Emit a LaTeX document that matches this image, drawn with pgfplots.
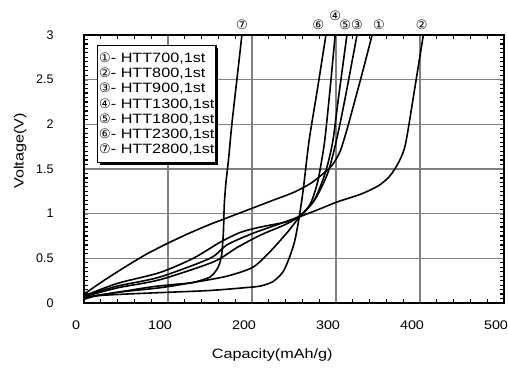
\documentclass[border=0pt]{standalone}
\usepackage{fontspec}
\setmainfont{Liberation Sans}
\newfontfamily\wide{Liberation Sans}[FakeStretch=1.2]
\newfontfamily\wideb{Liberation Sans}[FakeStretch=1.15]
\newfontfamily\djfont{DejaVu Sans}
\usepackage{pgfplots}
\pgfplotsset{compat=1.18}
\usetikzlibrary{shadows}
\newcommand\cn[1]{{\djfont\fontsize{13}{13}\selectfont #1}}
\tikzset{curve/.style={draw=black, line width=1.6pt, smooth, tension=0.45, mark=none},
         tk/.style={draw=black, line width=1.2pt}}
\begin{document}
\begin{tikzpicture}
\begin{axis}[
  at={(84pt,64pt)}, anchor=south west,
  scale only axis, width=420pt, height=268pt,
  xmin=0, xmax=500, ymin=0, ymax=3,
  xtick={0,100,...,500}, ytick={0,0.5,...,3},
  tick align=inside,
  xmajorgrids=true, ymajorgrids=true,
  major grid style={draw=black!50, line width=1.5pt},
  axis line style={line width=1.8pt},
  /pgf/number format/assume math mode=true,
  xticklabel style={font=\wideb\fontsize{12.5}{12.5}\selectfont, yshift=-14pt, xshift=-8pt},
  yticklabel style={font=\fontsize{12.5}{12.5}\selectfont, xshift=-27pt},
  xlabel={Capacity(mAh/g)}, ylabel={Voltage(V)},
  label style={font=\wide\fontsize{13.5}{13.5}\selectfont},
  xlabel style={at={(axis description cs:0.448,-0.194)}, anchor=center},
  ylabel style={at={(axis description cs:-0.152,0.567)}, anchor=center},
  clip=false,
]
% 1 HTT700
\addplot[curve] coordinates {(0,0.10)(25,0.26)(50,0.41)(75,0.55)(100,0.67)(125,0.78)(150,0.88)(175,0.97)(200,1.06)(225,1.15)(250,1.24)(270,1.34)(285,1.45)(296,1.55)(305,1.70)(313,1.94)(322,2.25)(332,2.6)(343,3.0)};
% 2 HTT800
\addplot[curve] coordinates {(0,0.08)(40,0.22)(90,0.34)(130,0.50)(162,0.68)(186,0.79)(210,0.85)(242,0.91)(258,0.97)(280,1.05)(301,1.13)(330,1.22)(350,1.31)(362,1.40)(370,1.50)(377,1.62)(382,1.75)(386,1.95)(392,2.3)(398,2.65)(404,3.0)};
% 3 HTT900
\addplot[curve] coordinates {(0,0.06)(40,0.12)(90,0.17)(130,0.23)(170,0.30)(201,0.40)(221,0.57)(242,0.79)(258,0.98)(275,1.16)(290,1.45)(300,1.8)(310,2.25)(325,3.0)};
% 4 HTT1300
\addplot[curve] coordinates {(0,0.08)(40,0.19)(90,0.29)(150,0.50)(170,0.65)(201,0.78)(237,0.90)(258,0.98)(270,1.12)(278,1.35)(283,1.6)(287,1.85)(293,2.4)(299,3.0)};
% 5 HTT1800
\addplot[curve] coordinates {(0,0.07)(40,0.17)(90,0.26)(154,0.46)(182,0.62)(210,0.76)(240,0.88)(258,0.98)(274,1.15)(287,1.45)(296,1.8)(303,2.3)(313,3.0)};
% 6 HTT2300
\addplot[curve] coordinates {(0,0.04)(15,0.08)(50,0.10)(100,0.12)(150,0.14)(190,0.17)(210,0.19)(225,0.24)(237,0.35)(245,0.52)(251,0.70)(256,0.95)(261,1.27)(268,1.82)(278,2.4)(288,3.0)};
% 7 HTT2800
\addplot[curve] coordinates {(0,0.06)(40,0.12)(80,0.18)(110,0.21)(130,0.23)(150,0.29)(157,0.36)(161,0.43)(164,0.55)(166,0.8)(167,1.1)(169,1.35)(172,1.6)(176,2.0)(182,2.5)(188,3.0)};
% tick marks (axis decoration)
\pgfplotsinvokeforeach{20,40,60,80,120,140,160,180,220,240,260,280,320,340,360,380,420,440,460,480}{
  \draw[tk] (axis cs:#1,0) -- ([yshift=4pt]axis cs:#1,0);
  \draw[tk] (axis cs:#1,3) -- ([yshift=-4pt]axis cs:#1,3);
}
\pgfplotsinvokeforeach{0.05,0.1,0.15,0.2,0.25,0.3,0.35,0.4,0.45,0.55,0.6,0.65,0.7,0.75,0.8,0.85,0.9,0.95,1.05,1.1,1.15,1.2,1.25,1.3,1.35,1.4,1.45,1.55,1.6,1.65,1.7,1.75,1.8,1.85,1.9,1.95,2.05,2.1,2.15,2.2,2.25,2.3,2.35,2.4,2.45,2.55,2.6,2.65,2.7,2.75,2.8,2.85,2.9,2.95}{
  \draw[tk] (axis cs:0,#1) -- ([xshift=4pt]axis cs:0,#1);
  \draw[tk] (axis cs:500,#1) -- ([xshift=-4pt]axis cs:500,#1);
}
% labels on top
\node at (axis cs:188,3.11) {\cn{⑦}};
\node at (axis cs:279,3.11) {\cn{⑥}};
\node at (axis cs:299,3.21) {\cn{④}};
\node at (axis cs:311,3.11) {\cn{⑤}};
\node at (axis cs:325,3.11) {\cn{③}};
\node at (axis cs:351,3.11) {\cn{①}};
\node at (axis cs:402,3.11) {\cn{②}};
% legend box
\node[draw=black, line width=1.4pt, fill=white,
      drop shadow={shadow xshift=2.5pt, shadow yshift=-2.5pt, opacity=1, fill=black},
      anchor=north west, align=left, inner xsep=1.5pt, inner ysep=7pt,
      font=\wide\fontsize{13.5}{15.3}\selectfont]
  at (axis cs:15.5,2.89)
  {\cn{①}- HTT700,1st\\ \cn{②}- HTT800,1st\\ \cn{③}- HTT900,1st\\ \cn{④}- HTT1300,1st\\ \cn{⑤}- HTT1800,1st\\ \cn{⑥}- HTT2300,1st\\ \cn{⑦}- HTT2800,1st};
\end{axis}
\pgfresetboundingbox
\path[use as bounding box] (0,0) rectangle (508pt,367pt);
\end{tikzpicture}
\end{document}
